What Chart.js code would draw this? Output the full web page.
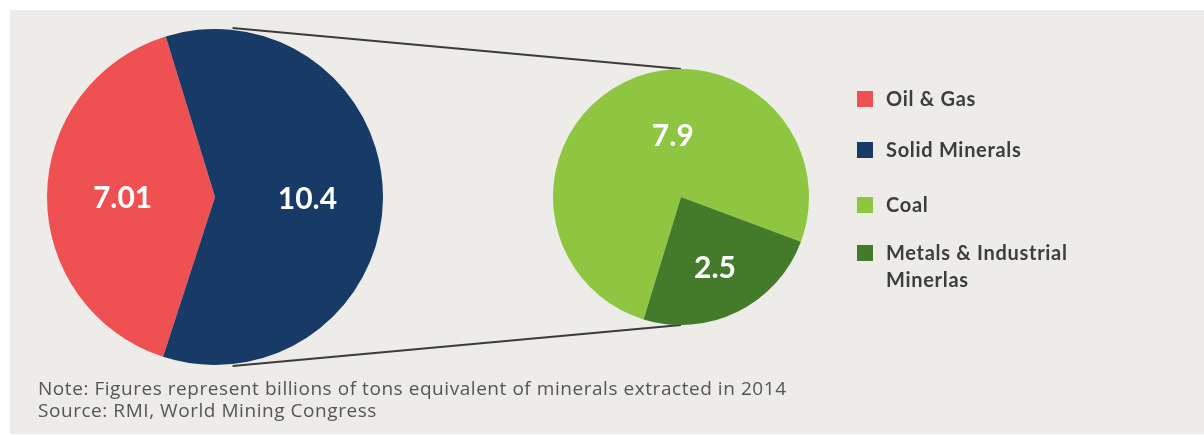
<!DOCTYPE html>
<html>
<head>
<meta charset="utf-8">
<script src="https://cdn.jsdelivr.net/npm/chart.js@4/dist/chart.umd.min.js"></script>
<style>
  body { margin: 0; background: #fff; width: 1204px; height: 435px; overflow: hidden; position: relative; }
  #panel { position: absolute; left: 10px; top: 10px; width: 1194px; height: 424px; background: #edece8; }
  canvas { position: absolute; }
  #links { left: 0; top: 0; }
  #bigPie { left: 47px; top: 29px; }
  #smallPie { left: 553px; top: 69px; }
  .leg { position: absolute; left: 857px; font: 700 20px Lato, sans-serif; letter-spacing: 0.7px; color: #3d3d3d; line-height: 27px; width: 240px; }
  .leg i { position: absolute; left: 0; top: 6px; width: 16px; height: 16px; }
  .leg span { display: block; margin-left: 29px; }
  #note { position: absolute; left: 38px; top: 377px; font: 19px "Open Sans", sans-serif; letter-spacing: 0.55px; color: #555; line-height: 22px; }
</style>
</head>
<body>
<div id="panel"></div>
<canvas id="links" width="1204" height="435"></canvas>
<canvas id="bigPie" width="336" height="336"></canvas>
<canvas id="smallPie" width="256" height="256"></canvas>
<div id="legend"></div>
<div id="note">Note: Figures represent billions of tons equivalent of minerals extracted in 2014<br>Source: RMI, World Mining Congress</div>
<script>
// all minerals extracted in 2014 (billions of tons)
var totalLabels = ["Oil & Gas", "Solid Minerals"];
var totalValues = [7.01, 10.4];
// solid minerals split
var solidLabels = ["Coal", "Metals & Industrial Minerlas"];
var solidValues = [7.9, 2.5];

var colors = {
  "Oil & Gas": "#ef5051",
  "Solid Minerals": "#173a66",
  "Coal": "#8fc641",
  "Metals & Industrial Minerlas": "#437b2a"
};
var legendTops = [85, 136, 191, 239];

// white numbers inside the slices
var sliceLabels = {
  id: 'sliceLabels',
  afterDatasetsDraw: function(chart, args, opts) {
    var ctx = chart.ctx;
    var ds = chart.data.datasets[0];
    chart.getDatasetMeta(0).data.forEach(function(arc, i) {
      var p = opts.place[i];
      var a = p.angle != null ? (p.angle - 90) * Math.PI / 180 : (arc.startAngle + arc.endAngle) / 2;
      var r = arc.outerRadius * p.dist;
      ctx.save();
      ctx.fillStyle = '#fff';
      ctx.font = '700 30px Lato, sans-serif';
      ctx.textAlign = 'center';
      ctx.textBaseline = 'middle';
      ctx.fillText(String(ds.data[i]), arc.x + Math.cos(a) * r, arc.y + Math.sin(a) * r + 2);
      ctx.restore();
    });
  }
};

function pieOptions(rotation, place) {
  return {
    responsive: false,
    animation: false,
    rotation: rotation,
    layout: { padding: 0 },
    events: [],
    plugins: {
      legend: { display: false },
      tooltip: { enabled: false },
      sliceLabels: { place: place }
    }
  };
}

var bigChart = new Chart(document.getElementById("bigPie"), {
  type: 'pie',
  data: {
    labels: totalLabels,
    datasets: [{
      data: totalValues,
      backgroundColor: totalLabels.map(function(l) { return colors[l]; }),
      borderWidth: 0, hoverOffset: 0, offset: 0
    }]
  },
  options: pieOptions(198, [{ dist: 0.55 }, { dist: 0.55 }]),
  plugins: [sliceLabels]
});

var smallChart = new Chart(document.getElementById("smallPie"), {
  type: 'pie',
  data: {
    labels: solidLabels,
    datasets: [{
      data: solidValues,
      backgroundColor: solidLabels.map(function(l) { return colors[l]; }),
      borderWidth: 0, hoverOffset: 0, offset: 0
    }]
  },
  options: pieOptions(197, [{ angle: -7.5, dist: 0.49 }, { dist: 0.6 }]),
  plugins: [sliceLabels]
});

// connector lines from the big pie to the zoomed pie
function pieGeom(chart, canvasId) {
  var arc = chart.getDatasetMeta(0).data[0];
  var el = document.getElementById(canvasId);
  return { x: el.offsetLeft + arc.x, y: el.offsetTop + arc.y, r: arc.outerRadius };
}
var big = pieGeom(bigChart, "bigPie");
var small = pieGeom(smallChart, "smallPie");
var lctx = document.getElementById("links").getContext("2d");
lctx.strokeStyle = "#3b3b3b";
lctx.lineWidth = 2;
var bx = big.x + big.r * Math.sin(6 * Math.PI / 180);
lctx.beginPath();
lctx.moveTo(bx, big.y - big.r - 1);
lctx.lineTo(small.x, small.y - small.r);
lctx.moveTo(bx, big.y + big.r + 1);
lctx.lineTo(small.x, small.y + small.r);
lctx.stroke();

// legend
var legend = document.getElementById("legend");
totalLabels.concat(solidLabels).forEach(function(l, i) {
  var d = document.createElement("div");
  d.className = "leg";
  d.style.top = legendTops[i] + "px";
  d.innerHTML = '<i style="background:' + colors[l] + '"></i><span></span>';
  d.querySelector("span").textContent = l;
  if (i === 3) d.querySelector("span").style.width = "190px";
  legend.appendChild(d);
});
</script>
</body>
</html>
